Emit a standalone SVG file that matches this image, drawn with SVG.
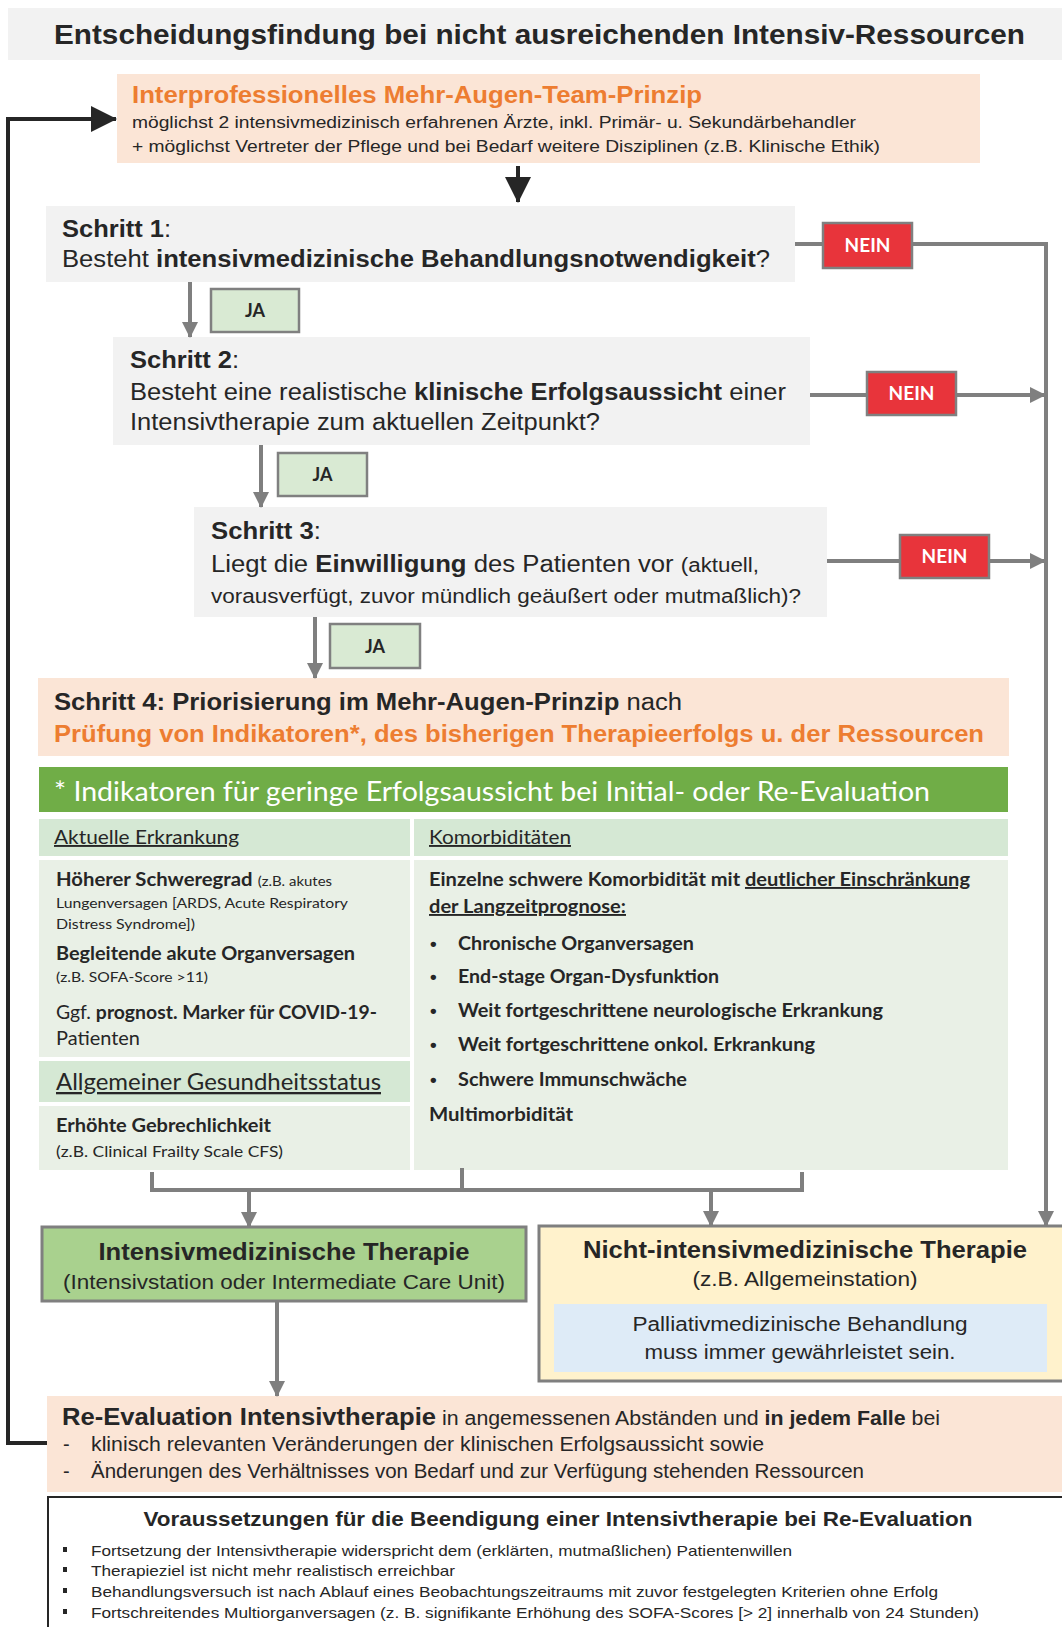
<svg xmlns="http://www.w3.org/2000/svg" width="1062" height="1627" viewBox="0 0 1062 1627">
<defs>
<marker id="ag" markerUnits="userSpaceOnUse" markerWidth="16" markerHeight="16" refX="15" refY="8" orient="auto"><path d="M0,0 L16,8 L0,16 z" fill="#7f7f7f"/></marker>
<marker id="ab" markerUnits="userSpaceOnUse" markerWidth="26" markerHeight="26" refX="25" refY="13" orient="auto"><path d="M0,0 L26,13 L0,26 z" fill="#262626"/></marker>
<style>
text{font-family:"Liberation Sans",Arial,sans-serif;fill:#262626}
.c{font-family:Lato,"Open Sans",sans-serif}
.b{font-weight:bold}
.or{fill:#ed7d31}
.gray{fill:#f2f2f2}
.peach{fill:#fbe5d6}
.ln{stroke:#7f7f7f;stroke-width:4;fill:none}
.bl{stroke:#262626;stroke-width:4;fill:none}
.nein rect{fill:#e8343b;stroke:#808080;stroke-width:2.5}
.nein text{fill:#fff;font-family:Lato,"Open Sans",sans-serif;font-weight:bold;font-size:19px}
.ja rect{fill:#d9ead3;stroke:#808080;stroke-width:2.5}
.ja text{font-family:Lato,"Open Sans",sans-serif;font-weight:bold;font-size:18px}
.hd{fill:#d5e8d4}
.bd{fill:#e9f0e6}
.u{text-decoration:underline}
</style>
</defs>
<rect width="1062" height="1627" fill="#fff"/>

<g id="title">
<rect x="8" y="8" width="1054" height="52" class="gray"/>
<text x="54" y="44" class="b" font-size="27" textLength="971" lengthAdjust="spacingAndGlyphs">Entscheidungsfindung bei nicht ausreichenden Intensiv-Ressourcen</text>
</g>

<g id="team">
<rect x="117" y="74" width="863" height="89" class="peach"/>
<text x="132" y="103" class="b or" font-size="23" textLength="570" lengthAdjust="spacingAndGlyphs">Interprofessionelles Mehr-Augen-Team-Prinzip</text>
<text x="132" y="128" font-size="16" textLength="724" lengthAdjust="spacingAndGlyphs">möglichst 2 intensivmedizinisch erfahrenen Ärzte, inkl. Primär- u. Sekundärbehandler</text>
<text x="132" y="152" font-size="16" textLength="748" lengthAdjust="spacingAndGlyphs">+ möglichst Vertreter der Pflege und bei Bedarf weitere Disziplinen (z.B. Klinische Ethik)</text>
</g>

<g id="schritt1">
<rect x="46" y="206" width="749" height="76" class="gray"/>
<text x="62" y="237" font-size="23" textLength="109" lengthAdjust="spacingAndGlyphs"><tspan class="b">Schritt 1</tspan>:</text>
<text x="62" y="267" font-size="23" textLength="708" lengthAdjust="spacingAndGlyphs">Besteht <tspan class="b">intensivmedizinische Behandlungsnotwendigkeit</tspan>?</text>
</g>

<g id="schritt2">
<rect x="113" y="337" width="697" height="108" class="gray"/>
<text x="130" y="368" font-size="23" textLength="109" lengthAdjust="spacingAndGlyphs"><tspan class="b">Schritt 2</tspan>:</text>
<text x="130" y="400" font-size="23" textLength="656" lengthAdjust="spacingAndGlyphs">Besteht eine realistische <tspan class="b">klinische Erfolgsaussicht</tspan> einer</text>
<text x="130" y="430" font-size="23" textLength="470" lengthAdjust="spacingAndGlyphs">Intensivtherapie zum aktuellen Zeitpunkt?</text>
</g>

<g id="schritt3">
<rect x="194" y="507" width="633" height="110" class="gray"/>
<text x="211" y="539" font-size="23" textLength="110" lengthAdjust="spacingAndGlyphs"><tspan class="b">Schritt 3</tspan>:</text>
<text x="211" y="572" font-size="23" textLength="548" lengthAdjust="spacingAndGlyphs">Liegt die <tspan class="b">Einwilligung</tspan> des Patienten vor <tspan font-size="20">(aktuell,</tspan></text>
<text x="211" y="603" font-size="20" textLength="590" lengthAdjust="spacingAndGlyphs">vorausverfügt, zuvor mündlich geäußert oder mutmaßlich)?</text>
</g>

<g id="schritt4">
<rect x="38" y="678" width="971" height="78" class="peach"/>
<text x="54" y="710" font-size="23" textLength="628" lengthAdjust="spacingAndGlyphs"><tspan class="b">Schritt 4: Priorisierung im Mehr-Augen-Prinzip</tspan> nach</text>
<text x="54" y="742" class="b or" font-size="23" textLength="930" lengthAdjust="spacingAndGlyphs">Prüfung von Indikatoren*, des bisherigen Therapieerfolgs u. der Ressourcen</text>
</g>

<g id="nein1" class="nein"><rect x="823" y="223" width="89" height="45"/><text x="867.5" y="252" text-anchor="middle">NEIN</text></g>
<g id="nein2" class="nein"><rect x="867" y="372" width="89" height="43"/><text x="911.5" y="400" text-anchor="middle">NEIN</text></g>
<g id="nein3" class="nein"><rect x="900" y="535" width="89" height="43"/><text x="944.5" y="563" text-anchor="middle">NEIN</text></g>
<g id="ja1" class="ja"><rect x="211" y="289" width="88" height="43"/><text x="255" y="317" text-anchor="middle">JA</text></g>
<g id="ja2" class="ja"><rect x="278" y="453" width="89" height="43"/><text x="322.5" y="481" text-anchor="middle">JA</text></g>
<g id="ja3" class="ja"><rect x="330" y="624" width="90" height="44"/><text x="375" y="653" text-anchor="middle">JA</text></g>

<g id="indikatoren">
<rect x="39" y="767" width="969" height="45" fill="#70ad47"/>
<text x="54" y="801" class="c" font-size="26" fill="#fff" style="fill:#fff" textLength="876" lengthAdjust="spacingAndGlyphs">* Indikatoren für geringe Erfolgsaussicht bei Initial- oder Re-Evaluation</text>
<rect x="39" y="819" width="371" height="37" class="hd"/>
<rect x="414" y="819" width="594" height="37" class="hd"/>
<rect x="39" y="860" width="371" height="197" class="bd"/>
<rect x="39" y="1061" width="371" height="41" class="hd"/>
<rect x="39" y="1106" width="371" height="64" class="bd"/>
<rect x="414" y="860" width="594" height="310" class="bd"/>
<text x="54" y="844" class="c u" font-size="19" textLength="185" lengthAdjust="spacingAndGlyphs">Aktuelle Erkrankung</text>
<text x="429" y="844" class="c u" font-size="19" textLength="142" lengthAdjust="spacingAndGlyphs">Komorbiditäten</text>
<text x="56" y="886" class="c" font-size="19" textLength="276" lengthAdjust="spacingAndGlyphs"><tspan class="b">Höherer Schweregrad</tspan> <tspan font-size="14">(z.B. akutes</tspan></text>
<text x="56" y="908" class="c" font-size="14" textLength="292" lengthAdjust="spacingAndGlyphs">Lungenversagen [ARDS, Acute Respiratory</text>
<text x="56" y="929" class="c" font-size="14" textLength="139" lengthAdjust="spacingAndGlyphs">Distress Syndrome])</text>
<text x="56" y="960" class="c b" font-size="19" textLength="299" lengthAdjust="spacingAndGlyphs">Begleitende akute Organversagen</text>
<text x="56" y="982" class="c" font-size="14" textLength="152" lengthAdjust="spacingAndGlyphs">(z.B. SOFA-Score  &gt;11)</text>
<text x="56" y="1019" class="c" font-size="19" textLength="321" lengthAdjust="spacingAndGlyphs">Ggf. <tspan class="b">prognost. Marker für COVID-19-</tspan></text>
<text x="56" y="1045" class="c" font-size="19" textLength="84" lengthAdjust="spacingAndGlyphs">Patienten</text>
<text x="56" y="1090" class="c u" font-size="23" textLength="325" lengthAdjust="spacingAndGlyphs">Allgemeiner Gesundheitsstatus</text>
<text x="56" y="1132" class="c b" font-size="19" textLength="215" lengthAdjust="spacingAndGlyphs">Erhöhte Gebrechlichkeit</text>
<text x="56" y="1157" class="c" font-size="15" textLength="227" lengthAdjust="spacingAndGlyphs">(z.B. Clinical Frailty Scale CFS)</text>
<text x="429" y="886" class="c b" font-size="19" textLength="541" lengthAdjust="spacingAndGlyphs">Einzelne schwere Komorbidität mit <tspan class="u">deutlicher Einschränkung</tspan></text>
<text x="429" y="913" class="c b u" font-size="19" textLength="197" lengthAdjust="spacingAndGlyphs">der Langzeitprognose:</text>
<g class="c b" font-size="19">
<text x="430" y="950">•</text><text x="458" y="950" class="c b" textLength="236" lengthAdjust="spacingAndGlyphs">Chronische Organversagen</text>
<text x="430" y="983">•</text><text x="458" y="983" class="c b" textLength="261" lengthAdjust="spacingAndGlyphs">End-stage Organ-Dysfunktion</text>
<text x="430" y="1017">•</text><text x="458" y="1017" class="c b" textLength="425" lengthAdjust="spacingAndGlyphs">Weit fortgeschrittene neurologische Erkrankung</text>
<text x="430" y="1051">•</text><text x="458" y="1051" class="c b" textLength="357" lengthAdjust="spacingAndGlyphs">Weit fortgeschrittene onkol. Erkrankung</text>
<text x="430" y="1086">•</text><text x="458" y="1086" class="c b" textLength="229" lengthAdjust="spacingAndGlyphs">Schwere Immunschwäche</text>
<text x="429" y="1121" class="c b" textLength="144" lengthAdjust="spacingAndGlyphs">Multimorbidität</text>
</g>
</g>

<g id="intensiv">
<rect x="42" y="1227" width="484" height="74" fill="#a9d18e" stroke="#7f7f7f" stroke-width="3"/>
<text x="284" y="1260" text-anchor="middle" class="b" font-size="24" textLength="371" lengthAdjust="spacingAndGlyphs">Intensivmedizinische Therapie</text>
<text x="284" y="1289" text-anchor="middle" font-size="20" textLength="442" lengthAdjust="spacingAndGlyphs">(Intensivstation oder Intermediate Care Unit)</text>
</g>

<g id="nichtintensiv">
<rect x="539" y="1226" width="530" height="155" fill="#fff2cc" stroke="#7f7f7f" stroke-width="3"/>
<text x="805" y="1258" text-anchor="middle" class="b" font-size="24" textLength="444" lengthAdjust="spacingAndGlyphs">Nicht-intensivmedizinische Therapie</text>
<text x="805" y="1286" text-anchor="middle" font-size="20" textLength="225" lengthAdjust="spacingAndGlyphs">(z.B. Allgemeinstation)</text>
<rect x="554" y="1304" width="493" height="68" fill="#deebf7"/>
<text x="800" y="1331" text-anchor="middle" font-size="20" textLength="335" lengthAdjust="spacingAndGlyphs">Palliativmedizinische Behandlung</text>
<text x="800" y="1359" text-anchor="middle" font-size="20" textLength="311" lengthAdjust="spacingAndGlyphs">muss immer gewährleistet sein.</text>
</g>

<g id="reevaluation">
<rect x="47" y="1396" width="1015" height="96" class="peach"/>
<text x="62" y="1425" font-size="20" textLength="878" lengthAdjust="spacingAndGlyphs"><tspan class="b" font-size="24">Re-Evaluation Intensivtherapie</tspan> in angemessenen Abständen und <tspan class="b">in jedem Falle</tspan> bei</text>
<text x="63" y="1451" font-size="20">-</text>
<text x="91" y="1451" font-size="20" textLength="673" lengthAdjust="spacingAndGlyphs">klinisch relevanten Veränderungen der klinischen Erfolgsaussicht sowie</text>
<text x="63" y="1478" font-size="20">-</text>
<text x="91" y="1478" font-size="20" textLength="773" lengthAdjust="spacingAndGlyphs">Änderungen des Verhältnisses von Bedarf und zur Verfügung stehenden Ressourcen</text>
</g>

<g id="voraussetzungen">
<rect x="48" y="1497" width="1020" height="140" fill="#fff" stroke="#262626" stroke-width="2"/>
<text x="558" y="1526" text-anchor="middle" class="b" font-size="21" textLength="829" lengthAdjust="spacingAndGlyphs">Voraussetzungen für die Beendigung einer Intensivtherapie bei Re-Evaluation</text>
<g fill="#262626"><rect x="63" y="1547" width="4" height="5"/><rect x="63" y="1567" width="4" height="5"/><rect x="63" y="1588" width="4" height="5"/><rect x="63" y="1609" width="4" height="5"/></g>
<text x="91" y="1556" font-size="15" textLength="701" lengthAdjust="spacingAndGlyphs">Fortsetzung der Intensivtherapie widerspricht dem (erklärten, mutmaßlichen) Patientenwillen</text>
<text x="91" y="1576" font-size="15" textLength="364" lengthAdjust="spacingAndGlyphs">Therapieziel ist nicht mehr realistisch erreichbar</text>
<text x="91" y="1597" font-size="15" textLength="847" lengthAdjust="spacingAndGlyphs">Behandlungsversuch ist nach Ablauf eines Beobachtungszeitraums mit zuvor festgelegten Kriterien ohne Erfolg</text>
<text x="91" y="1618" font-size="15" textLength="888" lengthAdjust="spacingAndGlyphs">Fortschreitendes Multiorganversagen (z. B. signifikante Erhöhung des SOFA-Scores [&gt; 2] innerhalb von 24 Stunden)</text>
</g>

<g id="connectors">
<polyline class="bl" points="47,1443 8,1443 8,119 116,119" marker-end="url(#ab)"/>
<line class="bl" x1="518" y1="166" x2="518" y2="202" marker-end="url(#ab)"/>
<line class="ln" x1="190" y1="282" x2="190" y2="337" marker-end="url(#ag)"/>
<line class="ln" x1="261" y1="445" x2="261" y2="507" marker-end="url(#ag)"/>
<line class="ln" x1="315" y1="617" x2="315" y2="678" marker-end="url(#ag)"/>
<line class="ln" x1="795" y1="244" x2="823" y2="244"/>
<polyline class="ln" points="912,244 1046,244 1046,1226" marker-end="url(#ag)"/>
<line class="ln" x1="810" y1="395" x2="867" y2="395"/>
<line class="ln" x1="956" y1="395" x2="1045" y2="395" marker-end="url(#ag)"/>
<line class="ln" x1="827" y1="561" x2="900" y2="561"/>
<line class="ln" x1="989" y1="561" x2="1045" y2="561" marker-end="url(#ag)"/>
<polyline class="ln" points="152,1172 152,1190 802,1190 802,1172"/>
<line class="ln" x1="462" y1="1168" x2="462" y2="1190"/>
<line class="ln" x1="249" y1="1190" x2="249" y2="1227" marker-end="url(#ag)"/>
<line class="ln" x1="711" y1="1190" x2="711" y2="1226" marker-end="url(#ag)"/>
<line class="ln" x1="277" y1="1301" x2="277" y2="1396" marker-end="url(#ag)"/>
</g>
</svg>
